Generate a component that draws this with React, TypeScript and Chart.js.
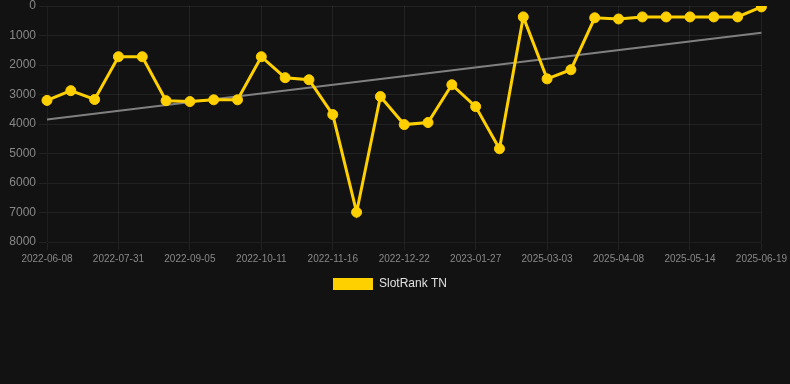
import React, { useEffect, useRef } from "react";
import { Chart, registerables } from "chart.js";

Chart.register(...registerables);

const dates = [
  "2022-06-08", "2022-06-26", "2022-07-13", "2022-07-31", "2022-08-12", "2022-08-24",
  "2022-09-05", "2022-09-17", "2022-09-29", "2022-10-11", "2022-10-23", "2022-11-04",
  "2022-11-16", "2022-11-28", "2022-12-10", "2022-12-22", "2023-01-03", "2023-01-15",
  "2023-01-27", "2023-02-08", "2025-02-19", "2025-03-03", "2025-03-15", "2025-03-27",
  "2025-04-08", "2025-04-20", "2025-05-02", "2025-05-14", "2025-05-26", "2025-06-07",
  "2025-06-19",
];

const slotRank = [
  3200, 2870, 3170, 1720, 1720, 3210, 3240, 3180, 3180, 1720, 2430, 2500,
  3680, 6990, 3070, 4020, 3950, 2670, 3410, 4840, 370, 2470, 2160, 400,
  440, 370, 370, 370, 370, 370, 30,
];

const trendStart = 3850;
const trendEnd = 910;

const yTicks = { min: 0, max: 8000, step: 1000 };

export default function App() {
  const ref = useRef<HTMLCanvasElement | null>(null);

  useEffect(() => {
    document.body.style.margin = "0";
    document.body.style.background = "#121212";
    const trend = dates.map((_, i) =>
      i === 0 ? trendStart : i === dates.length - 1 ? trendEnd : null
    );
    const font = "Arial, 'Liberation Sans', Helvetica, sans-serif";
    const chart = new Chart(ref.current!, {
      type: "line",
      data: {
        labels: dates,
        datasets: [
          {
            label: "SlotRank TN",
            data: slotRank,
            borderColor: "#FFD000",
            backgroundColor: "#FFD000",
            borderWidth: 3,
            pointRadius: 5,
            pointBorderWidth: 1,
            pointBackgroundColor: "#FFD000",
            pointBorderColor: "#FFD000",
            tension: 0,
          },
          {
            label: "Trend",
            data: trend,
            spanGaps: true,
            borderColor: "#808080",
            borderWidth: 2,
            pointRadius: 0,
            tension: 0,
          },
        ],
      },
      options: {
        animation: false,
        responsive: false,
        maintainAspectRatio: false,
        layout: { autoPadding: false, padding: { left: 0, right: 10, top: 0, bottom: 0 } },
        plugins: {
          legend: {
            position: "bottom",
            labels: {
              generateLabels: (c) =>
                Chart.defaults.plugins.legend.labels
                  .generateLabels(c)
                  .filter((it) => it.datasetIndex === 0)
                  .map((it) => ({ ...it, lineWidth: 0, fontColor: "#e0e0e0" })),
              boxWidth: 40,
              boxHeight: 12,
              color: "#e0e0e0",
              font: { family: font, size: 12 },
            },
          },
          tooltip: { enabled: false },
        },
        scales: {
          x: {
            grid: { color: "rgba(255,255,255,0.07)" },
            ticks: {
              color: "#888888",
              font: { family: font, size: 10 },
              maxRotation: 0,
              autoSkip: true,
              maxTicksLimit: 11,
            },
          },
          y: {
            reverse: true,
            min: yTicks.min,
            max: yTicks.max,
            afterFit: (s) => {
              s.width = 47;
              s.paddingTop = 6;
            },
            grid: { color: "rgba(255,255,255,0.07)" },
            ticks: {
              stepSize: yTicks.step,
              color: "#888888",
              font: { family: font, size: 12 },
              callback: (v) => String(v),
            },
          },
        },
      },
    });
    return () => chart.destroy();
  }, []);

  return (
    <div style={{ position: "absolute", left: 0, top: 0, width: 790, height: 300, background: "#121212" }}>
      <canvas ref={ref} width={790} height={300} style={{ display: "block" }} />
    </div>
  );
}
